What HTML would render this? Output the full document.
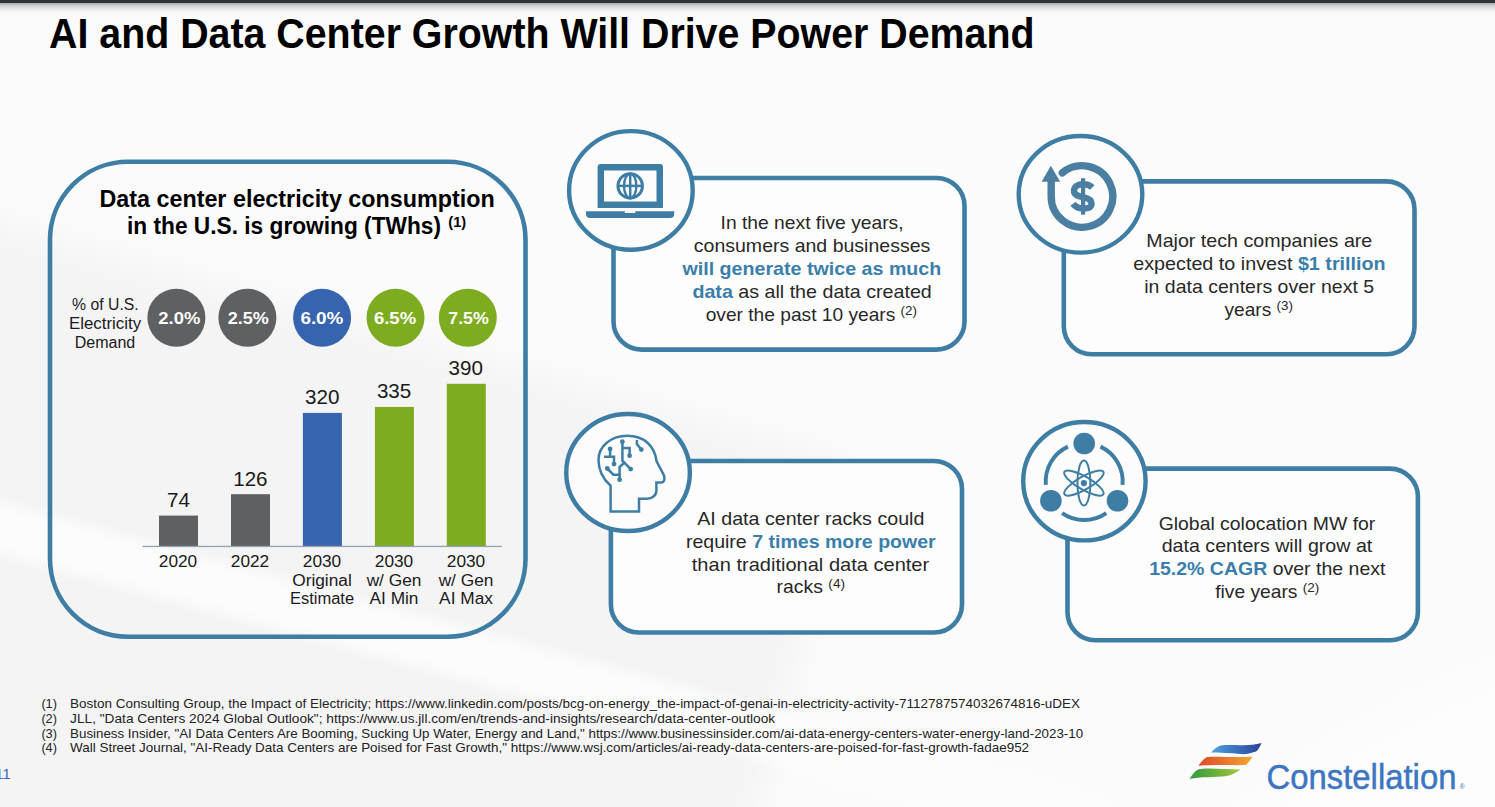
<!DOCTYPE html>
<html><head><meta charset="utf-8">
<style>
html,body{margin:0;padding:0;width:1495px;height:807px;overflow:hidden;background:#f6f6f6;}
svg{display:block;}
text{font-family:"Liberation Sans",sans-serif;}
</style></head>
<body>
<svg width="1495" height="807" viewBox="0 0 1495 807">
<defs>
<linearGradient id="shadow" x1="0" y1="0" x2="0" y2="1"><stop offset="0" stop-color="#ababab" stop-opacity="1"/><stop offset="0.25" stop-color="#d6d6d6" stop-opacity="1"/><stop offset="0.6" stop-color="#f0f0f0" stop-opacity="0.8"/><stop offset="1" stop-color="#fafafa" stop-opacity="0"/></linearGradient>
<filter id="blur2" filterUnits="userSpaceOnUse" x="-200" y="-200" width="1900" height="1200"><feGaussianBlur stdDeviation="16"/></filter>
<filter id="blur" filterUnits="userSpaceOnUse" x="-200" y="-200" width="1900" height="1200"><feGaussianBlur stdDeviation="6"/></filter>
<linearGradient id="gBlue" x1="0" y1="0" x2="1" y2="0"><stop offset="0" stop-color="#4aa3de"/><stop offset="1" stop-color="#2d3f98"/></linearGradient>
<linearGradient id="gOr" x1="0" y1="0" x2="1" y2="0"><stop offset="0" stop-color="#e04a2a"/><stop offset="1" stop-color="#f0a62e"/></linearGradient>
<linearGradient id="gGr" x1="0" y1="0" x2="1" y2="0"><stop offset="0" stop-color="#2e9a3e"/><stop offset="1" stop-color="#a6c63a"/></linearGradient>
</defs>
<rect x="0" y="0" width="1495" height="807" fill="#fbfbfb"/>
<g filter="url(#blur2)">
<path d="M-100,195 L527,371 L851,461 L760,807 L700,900 L-100,900 Z" fill="#f4f4f4"/>
<path d="M1180,900 C1250,800 1350,720 1600,640 L1600,900 Z" fill="#fdfdfd"/>
</g>
<g filter="url(#blur)">
<path d="M-100,476 L1100,800 L1100,850 L-100,526 Z" fill="#fcfcfc"/>
</g>
<!-- top bar -->
<rect x="0" y="0" width="1495" height="3" fill="#303335"/>
<rect x="0" y="3" width="1495" height="13" fill="url(#shadow)"/>

<!-- Title -->
<text x="49" y="48" font-size="42" font-weight="bold" fill="#000" textLength="985.5" lengthAdjust="spacingAndGlyphs">AI and Data Center Growth Will Drive Power Demand</text>

<!-- Left card -->
<rect x="50" y="161.8" width="475.5" height="475" rx="78" ry="78" fill="none" stroke="#3e7ea5" stroke-width="4.6"/>
<text x="99.4" y="206.9" font-size="23.6" font-weight="bold" fill="#000" textLength="395.4" lengthAdjust="spacingAndGlyphs">Data center electricity consumption</text>
<text x="127" y="233.6" font-size="23.6" font-weight="bold" fill="#000" textLength="314" lengthAdjust="spacingAndGlyphs">in the U.S. is growing (TWhs)</text>
<text x="448.3" y="226.6" font-size="14.5" font-weight="bold" fill="#000" textLength="17.8" lengthAdjust="spacingAndGlyphs">(1)</text>

<g font-size="15.8" fill="#1a1a1a" text-anchor="middle">
<text x="105.4" y="310" textLength="66.7" lengthAdjust="spacingAndGlyphs">% of U.S.</text>
<text x="105" y="329" textLength="72.2" lengthAdjust="spacingAndGlyphs">Electricity</text>
<text x="105" y="347.7" textLength="60.6" lengthAdjust="spacingAndGlyphs">Demand</text>
</g>

<!-- percentage circles -->
<circle cx="176.4" cy="317.7" r="29" fill="#5f6062"/>
<circle cx="247.4" cy="317.7" r="29" fill="#5f6062"/>
<circle cx="322.1" cy="317.7" r="29" fill="#3764ae"/>
<circle cx="395.5" cy="317.7" r="29" fill="#7eac21"/>
<circle cx="467.8" cy="317.7" r="29" fill="#7eac21"/>
<g font-size="16.5" font-weight="bold" fill="#fff" text-anchor="middle">
<text x="179.3" y="323.7" textLength="42" lengthAdjust="spacingAndGlyphs">2.0%</text>
<text x="248.2" y="323.7" textLength="41" lengthAdjust="spacingAndGlyphs">2.5%</text>
<text x="321.9" y="323.7" textLength="43" lengthAdjust="spacingAndGlyphs">6.0%</text>
<text x="395" y="323.7" textLength="42.2" lengthAdjust="spacingAndGlyphs">6.5%</text>
<text x="468.5" y="323.7" textLength="40.5" lengthAdjust="spacingAndGlyphs">7.5%</text>
</g>

<!-- bars -->
<rect x="159" y="515.6" width="39" height="30.4" fill="#5f6062"/>
<rect x="231" y="494.2" width="39" height="51.8" fill="#5f6062"/>
<rect x="302.9" y="412.9" width="39" height="133.1" fill="#3764ae"/>
<rect x="374.9" y="406.9" width="39" height="139.1" fill="#7eac21"/>
<rect x="446.8" y="383.8" width="39" height="162.2" fill="#7eac21"/>
<rect x="142.6" y="545.8" width="359.2" height="1.3" fill="#97a0ad"/>
<g font-size="20.6" fill="#1a1a1a" text-anchor="middle">
<text x="178.5" y="507">74</text>
<text x="250.4" y="485.5">126</text>
<text x="322.2" y="404.2">320</text>
<text x="394.1" y="397.8">335</text>
<text x="465.8" y="375.4">390</text>
</g>
<g font-size="17.3" fill="#1a1a1a" text-anchor="middle">
<text x="178" y="566.7">2020</text>
<text x="250" y="566.7">2022</text>
<text x="322" y="566.7">2030</text>
<text x="394" y="566.7">2030</text>
<text x="466" y="566.7">2030</text>
<text x="322" y="585.6">Original</text>
<text x="394" y="585.6">w/ Gen</text>
<text x="466" y="585.6">w/ Gen</text>
<text x="322" y="604.2" textLength="64.2" lengthAdjust="spacingAndGlyphs">Estimate</text>
<text x="394" y="604.2">AI Min</text>
<text x="466" y="604.2">AI Max</text>
</g>

<!-- Card frames -->
<g fill="#fdfdfd" stroke="#3e7ea5" stroke-width="4.6">
<rect x="613.5" y="178" width="351" height="171.6" rx="28" ry="28"/>
<rect x="1063.8" y="181.4" width="350.7" height="172.9" rx="28" ry="28"/>
<rect x="610.9" y="461" width="351.1" height="171.5" rx="28" ry="28"/>
<rect x="1067.5" y="468.6" width="350.4" height="171.7" rx="28" ry="28"/>
</g>
<g fill="#fcfcfc" stroke="#3e7ea5" stroke-width="4.4">
<ellipse cx="630.9" cy="190.4" rx="61.8" ry="59.3"/>
<ellipse cx="1080.5" cy="194.3" rx="61.8" ry="58.3"/>
<ellipse cx="628.05" cy="472.5" rx="61.8" ry="58.5"/>
<ellipse cx="1084.4" cy="481.2" rx="61.2" ry="59.2"/>
</g>
<!-- laptop icon -->
<g fill="#3e7ea5">
<path d="M600.6,163.9 H660 A3,3 0 0 1 663,166.9 V208 H597.6 V166.9 A3,3 0 0 1 600.6,163.9 Z M604,170.5 V201.5 H656.5 V170.5 Z" fill-rule="evenodd"/>
<path d="M586,211.2 H624.8 V213 H635.2 V211.2 H674.2 V214 A4,4 0 0 1 670.2,218 H590 A4,4 0 0 1 586,214 Z"/>
</g>
<g fill="none" stroke="#3e7ea5">
<circle cx="630.2" cy="185.9" r="12.2" stroke-width="3.1"/>
<ellipse cx="630.2" cy="185.9" rx="6.2" ry="12.2" stroke-width="2.4"/>
<line x1="630.2" y1="174" x2="630.2" y2="198" stroke-width="2.5"/>
<line x1="618" y1="185.9" x2="642.4" y2="185.9" stroke-width="2.5"/>
</g>
<!-- dollar icon -->
<g fill="none" stroke="#4a7fa2" stroke-width="7.4">
<path d="M1062.3,172.8 A30.8,30.8 0 1 1 1051.2,196.1 V180" stroke-linecap="round"/>
</g>
<path d="M1050.8,165.7 L1060.2,181.8 H1041.6 Z" fill="#4a7fa2"/>
<path d="M1092.3,187.5 C1090,185.2 1087,184.2 1083,184.2 C1077.5,184.2 1074,186.8 1074,190.8 C1074,195 1078,196.2 1083,197.2 C1089,198.4 1091.6,200.4 1091.6,203.8 C1091.6,207 1088,208.5 1083,208.5 C1078.5,208.5 1075.3,206.8 1073,203.8" fill="none" stroke="#4a7fa2" stroke-width="6.4"/>
<rect x="1081" y="178.2" width="4.2" height="36.5" fill="#4a7fa2"/>
<!-- head icon -->
<g fill="none" stroke="#3e7ea5" stroke-width="2.5" stroke-linejoin="miter">
<path d="M610.6,511.5 V485.8 C603,479 598.5,470 598.5,460 C598.5,445.5 611.5,435.7 627.5,435.7 C643.5,435.7 654.5,445.5 656.5,461 L664,475.5 C665,480 664,482.5 661,482.5 H656.4 V490.8 C656.4,495.5 652,498.7 647,498.7 H639 V511.5 Z"/>
<path d="M622.4,441.7 V460.7 L630.7,469.1"/>
<path d="M622.4,447.9 H629.6 V455.7"/>
<path d="M610.1,449 V456.8 M604,456.8 H614 V464.1"/>
<path d="M607.3,468.5 L613.4,474.7 H619.6 V479.7"/>
<path d="M619.6,474.7 V467 L624.5,462.5"/>
<path d="M636.9,440 V444 L641.3,449.6"/>
</g>
<g fill="#3e7ea5">
<circle cx="622.4" cy="441.7" r="2.4"/>
<circle cx="630.7" cy="469.1" r="2.4"/>
<circle cx="629.6" cy="455.7" r="2.4"/>
<circle cx="610.1" cy="449" r="2.4"/>
<circle cx="614" cy="464.1" r="2.4"/>
<circle cx="607.3" cy="468.5" r="2.4"/>
<circle cx="619.6" cy="479.7" r="2.4"/>
<circle cx="641.3" cy="449.6" r="2.4"/>
</g>
<!-- atom icon -->
<g fill="none" stroke="#3e7ea5" stroke-width="3.9">
<path d="M1067.93,446.61 A38.5,38.5 0 0 0 1045.85,484.86"/>
<path d="M1100.47,446.61 A38.5,38.5 0 0 1 1122.55,484.86"/>
<path d="M1062.12,513.04 A38.5,38.5 0 0 0 1106.28,513.04"/>
</g>
<g fill="#3e7ea5">
<circle cx="1084.2" cy="443.5" r="10.8"/>
<circle cx="1050.9" cy="500.75" r="10.8"/>
<circle cx="1117.5" cy="500.75" r="10.8"/>
<circle cx="1083.9" cy="483.1" r="3.1"/>
</g>
<g fill="none" stroke="#3e7ea5" stroke-width="2">
<ellipse cx="1083.9" cy="483.1" rx="6.5" ry="22.5"/>
<ellipse cx="1083.9" cy="483.1" rx="6.5" ry="22.5" transform="rotate(60 1083.9 483.1)"/>
<ellipse cx="1083.9" cy="483.1" rx="6.5" ry="22.5" transform="rotate(-60 1083.9 483.1)"/>
</g>

<!-- Card texts -->
<g font-size="19" fill="#282828">
<text x="720.6" y="228.6" textLength="183" lengthAdjust="spacingAndGlyphs">In the next five years,</text>
<text x="693.8" y="251.5" textLength="236.5" lengthAdjust="spacingAndGlyphs">consumers and businesses</text>
<text x="682.5" y="274.7" textLength="258.8" lengthAdjust="spacingAndGlyphs"><tspan font-weight="bold" fill="#3a7fab">will generate twice as much</tspan></text>
<text x="692.4" y="297.6" textLength="239.4" lengthAdjust="spacingAndGlyphs"><tspan font-weight="bold" fill="#3a7fab">data</tspan> as all the data created</text>
<text x="705.7" y="320.7" textLength="211.3" lengthAdjust="spacingAndGlyphs">over the past 10 years <tspan font-size="13.3" dy="-5.8">(2)</tspan></text>
<text x="1146.3" y="246.6" textLength="226" lengthAdjust="spacingAndGlyphs">Major tech companies are</text>
<text x="1133.2" y="269.8" textLength="252.5" lengthAdjust="spacingAndGlyphs">expected to invest <tspan font-weight="bold" fill="#3a7fab">$1 trillion</tspan></text>
<text x="1144.2" y="293" textLength="229.9" lengthAdjust="spacingAndGlyphs">in data centers over next 5</text>
<text x="1224.5" y="315.8" textLength="68.4" lengthAdjust="spacingAndGlyphs">years <tspan font-size="13.3" dy="-5.8">(3)</tspan></text>
<text x="697.2" y="524.6" textLength="227.2" lengthAdjust="spacingAndGlyphs">AI data center racks could</text>
<text x="685.9" y="547.8" textLength="249.8" lengthAdjust="spacingAndGlyphs">require <tspan font-weight="bold" fill="#3a7fab">7 times more power</tspan></text>
<text x="691.8" y="570.7" textLength="237.4" lengthAdjust="spacingAndGlyphs">than traditional data center</text>
<text x="776.6" y="593.3" textLength="68.4" lengthAdjust="spacingAndGlyphs">racks <tspan font-size="13.3" dy="-5.8">(4)</tspan></text>
<text x="1158.7" y="529.6" textLength="216.6" lengthAdjust="spacingAndGlyphs">Global colocation MW for</text>
<text x="1161.7" y="552.2" textLength="210.6" lengthAdjust="spacingAndGlyphs">data centers will grow at</text>
<text x="1149.2" y="575" textLength="236.2" lengthAdjust="spacingAndGlyphs"><tspan font-weight="bold" fill="#3a7fab">15.2% CAGR</tspan> over the next</text>
<text x="1215.2" y="598" textLength="104.1" lengthAdjust="spacingAndGlyphs">five years <tspan font-size="13.3" dy="-5.8">(2)</tspan></text>
</g>

<!-- footnotes -->
<g font-size="12.7" fill="#222">
<text x="41.4" y="707.8">(1)</text>
<text x="41.4" y="722.8">(2)</text>
<text x="41.4" y="737.5">(3)</text>
<text x="41.4" y="751.8">(4)</text>
<text x="70.1" y="707.8" textLength="1010" lengthAdjust="spacingAndGlyphs">Boston Consulting Group, the Impact of Electricity; https://www.linkedin.com/posts/bcg-on-energy_the-impact-of-genai-in-electricity-activity-7112787574032674816-uDEX</text>
<text x="70.1" y="722.8" textLength="705" lengthAdjust="spacingAndGlyphs">JLL, "Data Centers 2024 Global Outlook"; https://www.us.jll.com/en/trends-and-insights/research/data-center-outlook</text>
<text x="70.1" y="737.5" textLength="1013" lengthAdjust="spacingAndGlyphs">Business Insider, "AI Data Centers Are Booming, Sucking Up Water, Energy and Land," https://www.businessinsider.com/ai-data-energy-centers-water-energy-land-2023-10</text>
<text x="70.1" y="751.8" textLength="959" lengthAdjust="spacingAndGlyphs">Wall Street Journal, "AI-Ready Data Centers are Poised for Fast Growth," https://www.wsj.com/articles/ai-ready-data-centers-are-poised-for-fast-growth-fadae952</text>
</g>
<text x="-5" y="778.8" font-size="15.3" fill="#3d6ac0">11</text>

<!-- logo -->
<path d="M1211.1,752.5 C1215,748 1219,745.2 1225,745 C1235,744.5 1250,746.5 1261.6,743 C1259.5,747 1258,750.5 1256,751.5 C1250,753.5 1245,754.5 1240,754 C1230,753 1220,752.5 1211.1,752.5 Z" fill="url(#gBlue)"/>
<path d="M1198.4,765.8 C1201,762 1204,758.5 1207,757 C1215,756 1240,758 1252.6,756.4 C1250.5,759.5 1248,763 1246,765 C1235,765.5 1215,764.5 1198.4,765.8 Z" fill="url(#gOr)"/>
<path d="M1189.7,779.1 C1192,775 1195,771 1198,769.5 C1206,767 1225,769.5 1240.5,769.4 C1236,772.5 1232,775 1227,776 C1215,777.5 1200,776.5 1189.7,779.1 Z" fill="url(#gGr)"/>
<text x="1266.6" y="788.6" font-size="34.5" fill="#3c75c2" stroke="#3c75c2" stroke-width="0.5" textLength="189.8" lengthAdjust="spacingAndGlyphs">Constellation</text>
<text x="1459.5" y="789" font-size="7" fill="#3c75c2">®</text>
</svg>
</body></html>
